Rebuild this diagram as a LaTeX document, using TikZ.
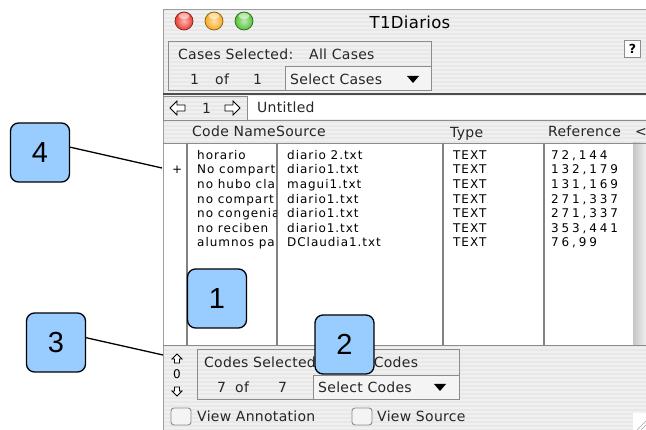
\documentclass[tikz,border=0pt]{standalone}
\usepackage{fontspec}
\setmainfont{DejaVu Sans}
\newfontfamily\uifont[LetterSpace=2]{DejaVu Sans}
\newfontfamily\listfont[LetterSpace=8]{DejaVu Sans}
\newfontfamily\numfont[LetterSpace=24]{DejaVu Sans}
\newfontfamily\calloutfont{Liberation Sans}
\definecolor{winbg}{RGB}{232,232,232}
\definecolor{stripe}{RGB}{240,240,240}
\definecolor{boxgray}{RGB}{140,140,140}
\definecolor{popupbg}{RGB}{244,244,244}
\definecolor{rulegray}{RGB}{130,130,130}
\definecolor{calloutblue}{RGB}{153,204,255}
\definecolor{lightred}{RGB}{235,60,50}
\definecolor{lightorange}{RGB}{248,170,30}
\definecolor{lightgreen}{RGB}{80,195,50}
\begin{document}
\begin{tikzpicture}[x=1pt,y=-1pt,
  ui/.style={font=\uifont\fontsize{14}{14}\selectfont, anchor=west, inner sep=0pt,
    text height=10.2pt, text depth=0pt, text=black!85},
  cell/.style={font=\listfont\fontsize{12}{12}\selectfont, anchor=west, inner sep=0pt,
    text height=8.7pt, text depth=0pt},
  refcell/.style={cell, font=\numfont\fontsize{12}{12}\selectfont},
  groupbox/.style={draw=boxgray, line width=0.9pt},
  popup/.style={draw=boxgray, line width=0.9pt, fill=popupbg},
  callout/.style={draw=black, line width=1.3pt, fill=calloutblue, rounded corners=8pt,
    minimum width=59pt, minimum height=59pt, inner sep=0pt,
    font=\calloutfont\fontsize{29}{29}\selectfont},
  leader/.style={draw=black, line width=1.3pt},
  colrule/.style={draw=rulegray, line width=1.6pt},
  whitearrow/.style={draw=black, line width=0.8pt, fill=white, line join=miter},
  checkbox/.style={draw=boxgray, line width=0.9pt, fill=popupbg, rounded corners=3pt},
]
\useasboundingbox (0,0) rectangle (646,430);

% window body with pinstripes
\fill[winbg] (163,10) rectangle (646,430);
\foreach \y in {12,16,...,428} \draw[stripe, line width=1.4pt] (164,\y) -- (646,\y);
\draw[gray!75, line width=1pt] (163,430) -- (163,10) -- (646,10);

% title bar: glossy window buttons
\foreach \x/\c in {184/lightred, 214/lightorange, 244/lightgreen}{
  \shade[inner color=\c!35!white, outer color=\c] (\x,21) circle [radius=9pt];
  \draw[\c!55!black, line width=0.7pt] (\x,21) circle [radius=9pt];
  \fill[white, opacity=0.55] (\x,16) ellipse [x radius=5.5pt, y radius=3.2pt];
}
\node[font=\uifont\fontsize{16.5}{16.5}\selectfont, inner sep=0pt] (title) at (410,22) {T1Diarios};

% cases selector
\draw[groupbox] (168,41) rectangle (431,90);
\draw[popup] (285,66) rectangle (431,90);
\node[ui] (casessel) at (178,54) {Cases Selected:};
\node[ui] (casesall) at (309,54) {All Cases};
\node[ui] (cone) at (190,79) {1};
\node[ui] (cof) at (215,79) {of};
\node[ui] (ctotal) at (253,79) {1};
\node[ui] (selcases) at (290,79) {Select Cases};
\fill (407,76) -- (419,76) -- (413,83) -- cycle;
\node[draw=boxgray, fill=white, line width=0.9pt, minimum width=16pt, minimum height=17pt,
  inner sep=0pt, font=\uifont\bfseries\fontsize{12.5}{12.5}\selectfont] (help) at (632.5,49) {?};

% document navigation row
\draw[gray!60!black, line width=1.2pt] (163,94) -- (646,94);
\fill[white] (247,96) rectangle (646,119);
\draw[boxgray, line width=0.9pt] (163,96) rectangle (247,120);
\draw[whitearrow] (170,108) -- (177,101) -- (177,105) -- (185,105) -- (185,111) -- (177,111) -- (177,115) -- cycle;
\node[ui] (docnum) at (202,108) {1};
\draw[whitearrow] (240,108) -- (233,101) -- (233,105) -- (225,105) -- (225,111) -- (233,111) -- (233,115) -- cycle;
\node[ui] (doctitle) at (257,107) {Untitled};

% column headers
\draw[boxgray, line width=0.8pt] (163,120) -- (646,120);
\node[ui] (hcode) at (192,131) {Code Name};
\node[ui] (hsrc) at (276,131) {Source};
\node[ui] (htype) at (450,132) {Type};
\node[ui] (href) at (548,131) {Reference};
\node[ui] (hmore) at (635,131) {<};

% list area
\fill[white] (164,143) rectangle (633,345);
\shade[left color=gray!45, right color=gray!12] (633,143) rectangle (646,345);
\draw[boxgray, line width=0.9pt] (163,143) -- (646,143);
\foreach \x in {187,277,443,544} \draw[colrule] (\x,143) -- (\x,345);
\draw[boxgray, line width=1.2pt] (163,345.5) -- (646,345.5);

\node[cell] (plus) at (172,169) {+};
\foreach \code/\src/\rf [count=\i, evaluate=\i as \y using 140.4+14.6*\i] in {
    horario/diario 2.txt/72{,}144,
    No compart/diario1.txt/132{,}179,
    no hubo cla/magui1.txt/131{,}169,
    no compart/diario1.txt/271{,}337,
    no congenia/diario1.txt/271{,}337,
    no reciben/diario1.txt/353{,}441,
    alumnos pa/DClaudia1.txt/76{,}99}{
  \begin{scope}
    \clip (188,143) rectangle (276,345);
    \node[cell] (code\i) at (197,\y) {\code};
  \end{scope}
  \node[cell] (src\i) at (287,\y) {\src};
  \node[cell] (type\i) at (453,\y) {TEXT};
  \node[refcell] (ref\i) at (551,\y) {\rf};
}

% codes selector
\draw[whitearrow] (177,354) -- (182,359) -- (179.5,359) -- (179.5,363) -- (174.5,363) -- (174.5,359) -- (172,359) -- cycle;
\node[cell, anchor=center] (scroll0) at (177,374) {0};
\draw[whitearrow] (177,396) -- (182,391) -- (179.5,391) -- (179.5,387) -- (174.5,387) -- (174.5,391) -- (172,391) -- cycle;
\draw[groupbox] (197,349) rectangle (459,399);
\draw[popup] (313,375) rectangle (459,399);
\node[ui] (codessel) at (204,362) {Codes Selected:};
\node[ui] (codesall) at (351,362) {All Codes};
\node[ui] (kone) at (217,387) {7};
\node[ui] (kof) at (235,387) {of};
\node[ui] (ktotal) at (278,387) {7};
\node[ui] (selcodes) at (318,387) {Select Codes};
\fill (434,384) -- (446,384) -- (440,391) -- cycle;

% view options
\draw[checkbox] (171,408) rectangle (191,425);
\node[ui] (viewann) at (197,416) {View Annotation};
\draw[checkbox] (352,408) rectangle (372,425);
\node[ui] (viewsrc) at (377,416) {View Source};

% resize grip
\fill[white] (633,413) rectangle (646,430);
\draw[gray!70, line width=0.7pt] (637,430) -- (646,421);
\draw[gray!70, line width=0.7pt] (641,430) -- (646,425);

% callouts
\node[callout] (c4) at (40,152.5) {4};
\node[callout] (c3) at (56,342.5) {3};
\node[callout] (c1) at (217,298.5) {1};
\node[callout] (c2) at (344.5,344.5) {2};
\coordinate (p4) at (162,168);
\coordinate (p3) at (163,355);
\draw[leader] (c4.10) -- (p4);
\draw[leader] (c3.9) -- (p3);
\end{tikzpicture}
\end{document}
